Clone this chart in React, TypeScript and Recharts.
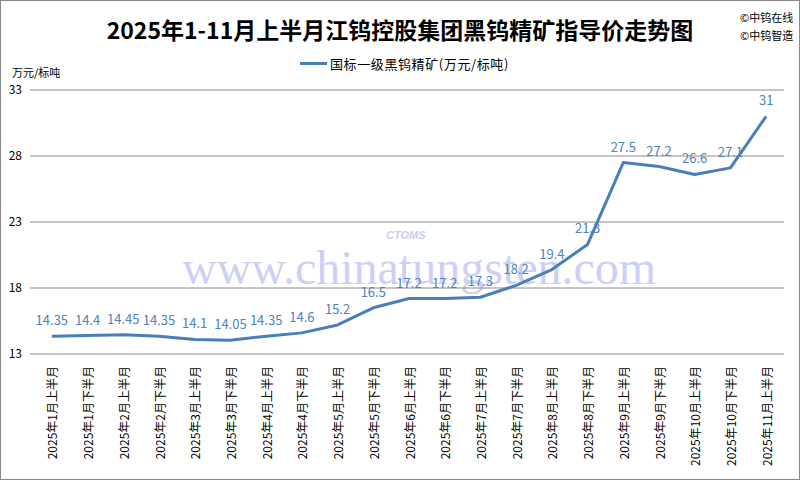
import React from 'react';
import { LineChart, Line, XAxis, YAxis, CartesianGrid, LabelList } from 'recharts';

const categories = [
  '2025年1月上半月', '2025年1月下半月', '2025年2月上半月', '2025年2月下半月',
  '2025年3月上半月', '2025年3月下半月', '2025年4月上半月', '2025年4月下半月',
  '2025年5月上半月', '2025年5月下半月', '2025年6月上半月', '2025年6月下半月',
  '2025年7月上半月', '2025年7月下半月', '2025年8月上半月', '2025年8月下半月',
  '2025年9月上半月', '2025年9月下半月', '2025年10月上半月', '2025年10月下半月',
  '2025年11月上半月',
];
const prices = [14.35, 14.4, 14.45, 14.35, 14.1, 14.05, 14.35, 14.6, 15.2, 16.5, 17.2, 17.2, 17.3, 18.2, 19.4, 21.3, 27.5, 27.2, 26.6, 27.1, 31];
const yTicks = [13, 18, 23, 28, 33];
const seriesName = '国标一级黑钨精矿(万元/标吨)';

const data = categories.map((c, i) => ({ idx: i, name: c, price: prices[i] }));
const boundaryTicks = Array.from({ length: categories.length + 1 }, (_, i) => i - 0.5);

const FONT = '"Noto Sans CJK SC", "Noto Sans", sans-serif';

const XTick = (props: any) => {
  const { x, y, payload } = props;
  const label = categories[Math.round(payload.value)] ?? '';
  return (
    <text x={x} y={y} transform={`rotate(-90 ${x} ${y})`} textAnchor="end" dominantBaseline="central"
      fontSize={12} fill="#000" fontFamily={FONT}>{label}</text>
  );
};

export default function App() {
  return (
    <div style={{ position: 'absolute', left: 0, top: 0, width: 800, height: 480, background: '#fff', fontFamily: FONT, overflow: 'hidden' }}>
      <div style={{ position: 'absolute', left: 0, top: 0, width: 798, height: 478, border: '1px solid #888' }} />
      {/* watermark */}
      <div style={{ position: 'absolute', left: 386, top: 229, fontSize: 11, fontStyle: 'italic', fontWeight: 'bold', color: '#C9CEF3', fontFamily: 'Liberation Sans, sans-serif' }}>CTOMS</div>
      <div style={{ position: 'absolute', left: 182, top: 240, fontSize: 48, color: '#CDD0F5', fontFamily: '"Liberation Serif", "DejaVu Serif", serif', whiteSpace: 'nowrap' }}>www.chinatungsten.com</div>
      <div style={{ position: 'absolute', left: 0, top: 0 }}>
        <LineChart width={800} height={480} data={data} margin={{ top: 90, right: 16, bottom: 16, left: 4 }}>
          <CartesianGrid horizontal vertical={false} stroke="#8c8c8c" strokeWidth={1} />
          <XAxis xAxisId="main" dataKey="idx" type="number" domain={[-0.5, 20.5]} ticks={data.map(d => d.idx)}
            tick={<XTick />} tickLine={false} axisLine={false} height={110} interval={0} tickMargin={6} />
          <XAxis xAxisId="bnd" dataKey="idx" type="number" domain={[-0.5, 20.5]} ticks={boundaryTicks}
            tick={false} tickLine={{ stroke: '#8c8c8c' }} axisLine={{ stroke: '#8c8c8c' }} tickSize={5} height={0} />
          <YAxis domain={[13, 33]} ticks={yTicks} width={30} axisLine={false} tickLine={{ stroke: '#8c8c8c' }} tickSize={4} tickMargin={8}
            tick={{ fontSize: 12, fill: '#000', fontFamily: FONT }} />
          <Line xAxisId="main" type="linear" dataKey="price" name={seriesName} stroke="#4A7EBB" strokeWidth={3} strokeLinejoin="round" dot={false} isAnimationActive={false}>
            <LabelList dataKey="price" position="top" offset={11} fill="#4F81BD" fontSize={13} fontFamily={FONT} />
          </Line>
        </LineChart>
      </div>
      {/* legend */}
      <div style={{ position: 'absolute', left: 300, top: 62, width: 27, height: 3, background: '#4A7EBB' }} />
      <div style={{ position: 'absolute', left: 330, top: 54, fontSize: 13, color: '#000', letterSpacing: 0.6, whiteSpace: 'nowrap' }}>{seriesName}</div>
      <div style={{ position: 'absolute', left: 0, width: 800, top: 12, textAlign: 'center', fontSize: 23, fontWeight: 'bold', color: '#000', whiteSpace: 'nowrap' }}>2025年1-11月上半月江钨控股集团黑钨精矿指导价走势图</div>
      <div style={{ position: 'absolute', left: 740, top: 8, fontSize: 11, color: '#000', lineHeight: '18px' }}>©中钨在线<br />©中钨智造</div>
      <div style={{ position: 'absolute', left: 12, top: 64, fontSize: 11, color: '#000' }}>万元/标吨</div>
    </div>
  );
}
